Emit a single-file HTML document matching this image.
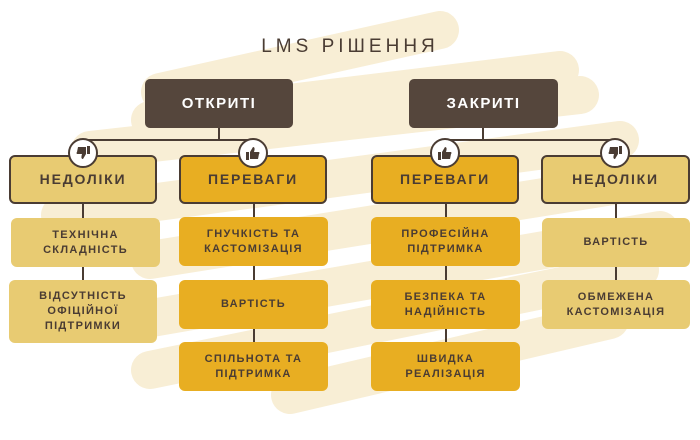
<!DOCTYPE html>
<html><head><meta charset="utf-8"><style>
body{margin:0;width:700px;height:440px;background:#fff;position:relative;overflow:hidden;font-family:"Liberation Sans","DejaVu Sans",sans-serif}
.b{position:absolute;display:flex;align-items:center;justify-content:center;text-align:center;font-weight:bold;color:#4a3c33;font-size:11px;letter-spacing:1.3px;line-height:15px;border-radius:6px;box-sizing:border-box}
.top{background:#55463c;color:#fff;font-size:15px;letter-spacing:1.5px;border-radius:5px}
.h{border:2px solid #4a3c33;font-size:14px;letter-spacing:1.8px}
.l{background:#e8cb72}.d{background:#e8ae22}
.ln{position:absolute;background:#4a3c33}
.ic{position:absolute;width:26px;height:26px;border:2px solid #4a3c33;border-radius:50%;background:#fff}
.ic svg{position:absolute;left:6px;top:6px}
</style></head><body>
<svg width="700" height="440" style="position:absolute;left:0;top:0" fill="none" stroke="#f8eed5" stroke-linecap="round" stroke-linejoin="round" stroke-width="38">
<line x1="160" y1="92" x2="440" y2="30"/>
<line x1="150" y1="120" x2="560" y2="70"/>
<line x1="90" y1="150" x2="580" y2="95"/>
<line x1="60" y1="215" x2="620" y2="140"/>
<line x1="150" y1="260" x2="650" y2="180"/>
<line x1="140" y1="320" x2="660" y2="230"/>
<line x1="150" y1="370" x2="640" y2="270"/>
<line x1="290" y1="395" x2="610" y2="320"/>
</svg>
<div style="position:absolute;left:0;width:700px;top:36px;text-align:center;font-size:19px;letter-spacing:4px;color:#4a3c33">LMS РІШЕННЯ</div>

<div class="b top" style="left:145px;top:79px;width:148px;height:49px">ОТКРИТІ</div>
<div class="b top" style="left:409px;top:79px;width:149px;height:49px">ЗАКРИТІ</div>

<div class="ln" style="left:218px;top:128px;width:2px;height:13px"></div>
<div class="ln" style="left:83px;top:139px;width:171px;height:2px"></div>
<div class="ln" style="left:482px;top:128px;width:2px;height:13px"></div>
<div class="ln" style="left:445px;top:139px;width:171px;height:2px"></div>

<div class="b h l" style="left:9px;top:155px;width:148px;height:49px">НЕДОЛІКИ</div>
<div class="b h d" style="left:179px;top:155px;width:148px;height:49px">ПЕРЕВАГИ</div>
<div class="b h d" style="left:371px;top:155px;width:148px;height:49px">ПЕРЕВАГИ</div>
<div class="b h l" style="left:541px;top:155px;width:149px;height:49px">НЕДОЛІКИ</div>

<div class="ic" style="left:68px;top:138px"><svg width="14" height="14" viewBox="0 0 14 14" style="transform:rotate(180deg)"><rect x="0" y="6" width="3" height="8" fill="#4a3c33"/><path d="M4 6 L7 1 Q9 1 8.5 4 L8 6 L13 6 Q14 7 13 8 L12 13 L4 13 Z" fill="#4a3c33"/></svg></div>
<div class="ic" style="left:238px;top:138px"><svg width="14" height="14" viewBox="0 0 14 14"><rect x="0" y="6" width="3" height="8" fill="#4a3c33"/><path d="M4 6 L7 1 Q9 1 8.5 4 L8 6 L13 6 Q14 7 13 8 L12 13 L4 13 Z" fill="#4a3c33"/></svg></div>
<div class="ic" style="left:430px;top:138px"><svg width="14" height="14" viewBox="0 0 14 14"><rect x="0" y="6" width="3" height="8" fill="#4a3c33"/><path d="M4 6 L7 1 Q9 1 8.5 4 L8 6 L13 6 Q14 7 13 8 L12 13 L4 13 Z" fill="#4a3c33"/></svg></div>
<div class="ic" style="left:600px;top:138px"><svg width="14" height="14" viewBox="0 0 14 14" style="transform:rotate(180deg)"><rect x="0" y="6" width="3" height="8" fill="#4a3c33"/><path d="M4 6 L7 1 Q9 1 8.5 4 L8 6 L13 6 Q14 7 13 8 L12 13 L4 13 Z" fill="#4a3c33"/></svg></div>

<div class="ln" style="left:82px;top:204px;width:2px;height:76px"></div>
<div class="ln" style="left:253px;top:204px;width:2px;height:140px"></div>
<div class="ln" style="left:445px;top:204px;width:2px;height:140px"></div>
<div class="ln" style="left:615px;top:204px;width:2px;height:76px"></div>

<div class="b l" style="left:11px;top:218px;width:149px;height:49px">ТЕХНІЧНА<br>СКЛАДНІСТЬ</div>
<div class="b l" style="left:9px;top:280px;width:148px;height:63px">ВІДСУТНІСТЬ<br>ОФІЦІЙНОЇ<br>ПІДТРИМКИ</div>

<div class="b d" style="left:179px;top:217px;width:149px;height:49px">ГНУЧКІСТЬ ТА<br>КАСТОМІЗАЦІЯ</div>
<div class="b d" style="left:179px;top:280px;width:149px;height:49px">ВАРТІСТЬ</div>
<div class="b d" style="left:179px;top:342px;width:149px;height:49px">СПІЛЬНОТА ТА<br>ПІДТРИМКА</div>

<div class="b d" style="left:371px;top:217px;width:149px;height:49px">ПРОФЕСІЙНА<br>ПІДТРИМКА</div>
<div class="b d" style="left:371px;top:280px;width:149px;height:49px">БЕЗПЕКА ТА<br>НАДІЙНІСТЬ</div>
<div class="b d" style="left:371px;top:342px;width:149px;height:49px">ШВИДКА<br>РЕАЛІЗАЦІЯ</div>

<div class="b l" style="left:542px;top:218px;width:148px;height:49px">ВАРТІСТЬ</div>
<div class="b l" style="left:542px;top:280px;width:148px;height:49px">ОБМЕЖЕНА<br>КАСТОМІЗАЦІЯ</div>
</body></html>
